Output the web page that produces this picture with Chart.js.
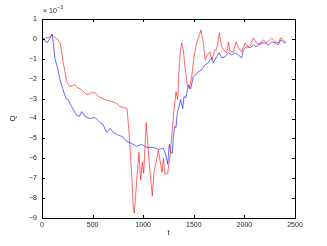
<!DOCTYPE html>
<html>
<head>
<meta charset="utf-8">
<script src="https://cdn.jsdelivr.net/npm/chart.js@4"></script>
<style>
  html, body { margin: 0; padding: 0; background: #fff; }
  #wrap { width: 327px; height: 246px; }
</style>
</head>
<body>
<div id="wrap"><canvas id="qChart" width="327" height="246"></canvas></div>
<script>
// values in units of 1e-3 (see the axis multiplier)
const redT = [0, 40, 80, 100, 120, 150, 180, 210, 245, 275, 300, 325, 350, 375, 400, 440, 470, 500, 525, 560, 600, 650, 700, 740, 770, 810, 840, 860, 890, 900, 912, 935, 958, 975, 991, 1005, 1030, 1050, 1067, 1090, 1107, 1127, 1150, 1166, 1186, 1200, 1215, 1242, 1265, 1281, 1304, 1324, 1341, 1357, 1367, 1380, 1396, 1413, 1436, 1456, 1479, 1502, 1528, 1554, 1571, 1594, 1611, 1634, 1660, 1677, 1693, 1709, 1726, 1752, 1775, 1798, 1825, 1841, 1858, 1891, 1917, 1940, 1973, 2006, 2039, 2062, 2088, 2121, 2154, 2187, 2220, 2270, 2302, 2335, 2358, 2385, 2408]
const redQ = [0, 0.05, 0.1, 0.2, 0.1, 0, -0.2, -1.2, -2.15, -2.4, -2.35, -2.3, -2.45, -2.5, -2.6, -2.8, -2.75, -2.7, -2.7, -2.9, -3.0, -3.1, -3.15, -3.25, -3.4, -3.45, -3.5, -4.7, -7.1, -8.4, -8.75, -7.2, -5.7, -7.1, -6.2, -6.75, -4.2, -5.6, -6.7, -7.9, -6.7, -6.2, -5.6, -6.1, -6.7, -6.0, -6.8, -6.75, -5.9, -4.9, -3.6, -2.65, -3.05, -1.2, -0.65, -0.2, -0.55, -1.4, -2.3, -2.5, -1.9, -0.9, -0.2, 0.2, 0.45, -0.2, -1.05, -0.8, -0.65, -1.05, -0.8, -0.55, -0.55, 0.3, -0.4, -0.55, -0.7, -0.15, -0.65, -0.65, -0.15, -0.45, -0.65, -0.2, -0.4, -0.3, 0.05, -0.2, -0.3, -0.05, -0.2, 0.05, -0.15, -0.2, 0.05, -0.05, -0.2]

const blueT = [0, 25, 50, 75, 100, 112, 128, 151, 178, 204, 237, 260, 293, 336, 369, 392, 425, 474, 524, 573, 603, 639, 672, 705, 738, 787, 820, 837, 886, 935, 985, 1034, 1100, 1150, 1199, 1222, 1242, 1258, 1272, 1288, 1298, 1311, 1324, 1337, 1354, 1370, 1390, 1403, 1423, 1446, 1469, 1495, 1522, 1545, 1578, 1611, 1644, 1660, 1677, 1693, 1726, 1752, 1775, 1808, 1841, 1874, 1907, 1940, 1973, 1990, 2023, 2055, 2088, 2121, 2154, 2204, 2237, 2270, 2302, 2335, 2358, 2385, 2408]
const blueQ = [0, -0.05, -0.2, 0, 0.25, -0.2, -1.0, -1.4, -2.05, -2.5, -3.0, -3.05, -3.4, -3.8, -3.9, -3.65, -3.9, -4.0, -3.95, -4.2, -4.3, -4.7, -4.5, -4.7, -4.8, -4.9, -5.05, -5.15, -5.25, -5.4, -5.3, -5.45, -5.45, -5.55, -5.5, -5.8, -6.3, -5.3, -5.7, -5.75, -4.9, -4.4, -4.45, -3.7, -3.4, -3.05, -3.5, -2.9, -2.95, -2.3, -2.5, -1.9, -1.8, -1.65, -1.55, -1.3, -1.2, -1.05, -0.95, -1.2, -0.9, -0.7, -0.95, -0.9, -0.7, -0.8, -0.7, -0.8, -0.95, -0.55, -0.4, -0.45, -0.3, -0.4, -0.2, -0.2, -0.3, -0.15, -0.2, -0.3, -0.05, -0.15, -0.2]

const xTicks = [0, 500, 1000, 1500, 2000, 2500]
const yTicks = [1, 0, -1, -2, -3, -4, -5, -6, -7, -8, -9]

const FONT = "'Liberation Sans', Arial, Helvetica, sans-serif"

const toPts = (ts, qs) => ts.map((t, i) => ({x: t, y: qs[i]}))

// box all round + inward tick marks (matlab style) + the x10^-3 note
const boxPlugin = {
    id: 'box',
    afterDraw(chart) {
        const {ctx, chartArea: a, scales} = chart
        ctx.save()
        ctx.strokeStyle = '#000'
        ctx.lineWidth = 1
        ctx.strokeRect(Math.round(a.left) + 0.5, Math.round(a.top) + 0.5, Math.round(a.right - a.left), Math.round(a.bottom - a.top))
        ctx.beginPath()
        xTicks.forEach(v => {
            const px = Math.round(scales.x.getPixelForValue(v)) + 0.5
            ctx.moveTo(px, a.bottom); ctx.lineTo(px, a.bottom - 3)
            ctx.moveTo(px, a.top); ctx.lineTo(px, a.top + 3)
        })
        yTicks.forEach(v => {
            const py = Math.round(scales.y.getPixelForValue(v)) + 0.5
            ctx.moveTo(a.left, py); ctx.lineTo(a.left + 3, py)
            ctx.moveTo(a.right, py); ctx.lineTo(a.right - 3, py)
        })
        ctx.stroke()
        ctx.fillStyle = '#222'
        ctx.textBaseline = 'alphabetic'
        ctx.font = '7px ' + FONT
        ctx.fillText('\u00d7 10', a.left + 1, a.top - 6)
        const w = ctx.measureText('\u00d7 10').width
        ctx.font = '5px ' + FONT
        ctx.fillText('\u22123', a.left + 1 + w + 0.5, a.top - 10)
        ctx.restore()
    }
}

new Chart('qChart', {
    type: 'line',
    data: {
        datasets: [
            {data: toPts(redT, redQ), borderColor: 'rgb(255,0,0)', borderWidth: 0.6, pointRadius: 0, tension: 0, fill: false},
            {data: toPts(blueT, blueQ), borderColor: 'rgb(0,0,255)', borderWidth: 0.6, pointRadius: 0, tension: 0, fill: false}
        ]
    },
    options: {
        responsive: false,
        animation: false,
        events: [],
        layout: {padding: {left: 0, top: 19, right: 32, bottom: 0}},
        plugins: {legend: {display: false}, tooltip: {enabled: false}},
        scales: {
            x: {
                type: 'linear', min: 0, max: 2500,
                afterFit: s => { s.height = 28 },
                afterBuildTicks: s => { s.ticks = xTicks.map(v => ({value: v})) },
                grid: {display: false, drawTicks: false},
                border: {display: false},
                ticks: {
                    font: {family: FONT, size: 7}, color: '#222', padding: 3, maxRotation: 0, autoSkip: false,
                    callback: v => String(v)
                },
                title: {display: true, text: 't', font: {family: FONT, size: 8}, color: '#222', padding: {top: 0, bottom: 8}}
            },
            y: {
                type: 'linear', min: -9, max: 1,
                afterFit: s => { s.width = 42 },
                afterBuildTicks: s => { s.ticks = yTicks.map(v => ({value: v})) },
                grid: {display: false, drawTicks: false},
                border: {display: false},
                ticks: {
                    font: {family: FONT, size: 7}, color: '#222', padding: 5, autoSkip: false,
                    callback: v => v < 0 ? '\u2212' + Math.abs(v) : String(v)
                },
                title: {display: true, text: 'Q', font: {family: FONT, size: 8}, color: '#222', padding: {top: 8, bottom: 0}}
            }
        }
    },
    plugins: [boxPlugin]
})
</script>
</body>
</html>
